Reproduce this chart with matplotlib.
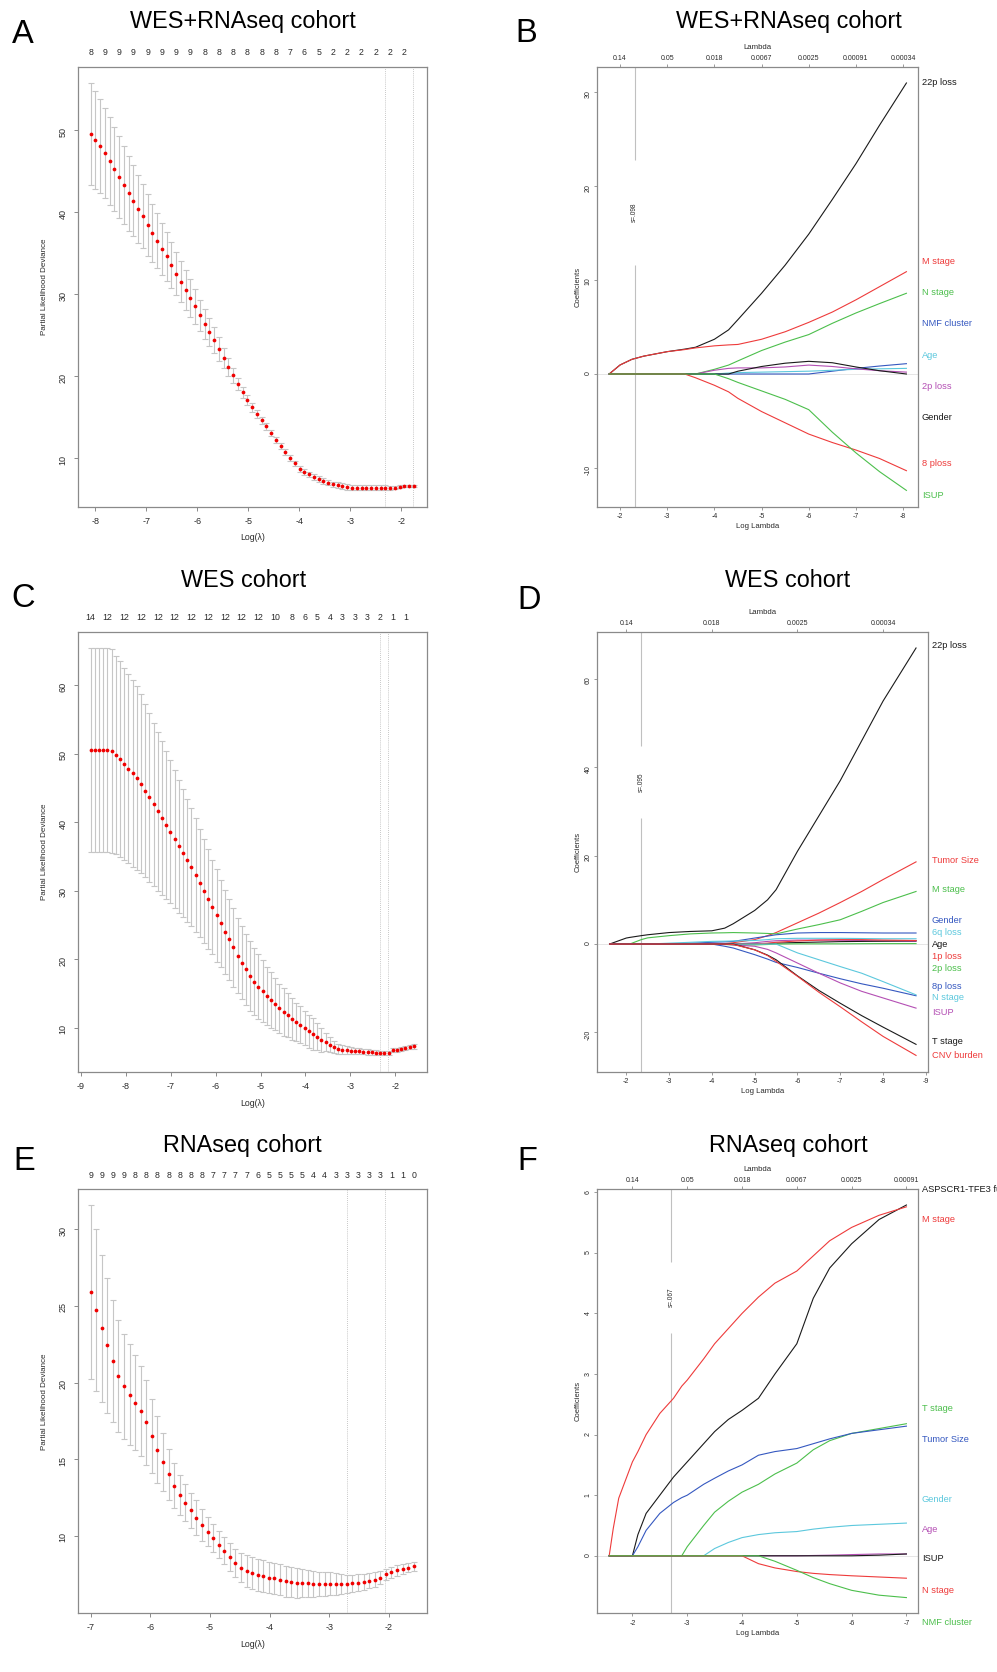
import numpy as np
import matplotlib
matplotlib.use("Agg")
import matplotlib.pyplot as plt
import matplotlib.transforms as mtransforms

plt.rcParams['font.family'] = ['Liberation Sans', 'DejaVu Sans']
plt.rcParams['axes.unicode_minus'] = False

# ---------------- data: cross-validation curves ----------------
a_loglam_range = (-8.091, -1.759, 69)
a_dev = [49.55, 48.82, 48.05, 47.2, 46.26, 45.28, 44.3, 43.3, 42.3, 41.4,
         40.4, 39.5, 38.4, 37.4, 36.5, 35.5, 34.6, 33.6, 32.5, 31.5,
         30.5, 29.5, 28.5, 27.4, 26.4, 25.4, 24.4, 23.3, 22.2, 21.1,
         20.1, 19.0, 18.0, 17.1, 16.2, 15.4, 14.6, 13.9, 13.05, 12.2,
         11.5, 10.7, 10.0, 9.35, 8.7, 8.3, 8.0, 7.7, 7.45, 7.2,
         7.0, 6.8, 6.7, 6.6, 6.5, 6.4, 6.4, 6.4, 6.4, 6.4,
         6.4, 6.4, 6.4, 6.4, 6.4, 6.5, 6.6, 6.6, 6.6]
a_se = [6.19, 5.99, 5.78, 5.54, 5.34, 5.13, 4.97, 4.77, 4.56, 4.36,
        4.15, 3.91, 3.75, 3.54, 3.34, 3.14, 2.97, 2.81, 2.65, 2.48,
        2.40, 2.28, 2.12, 1.91, 1.83, 1.71, 1.59, 1.47, 1.18, 1.06,
        0.90, 0.73, 0.65, 0.57, 0.53, 0.48, 0.45, 0.42, 0.40, 0.38,
        0.36, 0.35, 0.34, 0.34, 0.34, 0.34, 0.34, 0.34, 0.34, 0.34,
        0.34, 0.34, 0.34, 0.34, 0.34, 0.34, 0.34, 0.34, 0.34, 0.34,
        0.30, 0.28, 0.26, 0.25, 0.22, 0.18, 0.15, 0.12, 0.10]
a_top_idx = [0, 3, 6, 9, 12, 15, 18, 21, 24, 27, 30, 33, 36, 39, 42, 45, 48, 51, 54, 57, 60, 63, 66]
a_top_lab = ['8', '9', '9', '9', '9', '9', '9', '9', '8', '8', '8', '8', '8', '8', '7', '6', '5',
             '2', '2', '2', '2', '2', '2']
a_vlines = [-2.32, -1.765]
a_xticks = [-8, -7, -6, -5, -4, -3, -2]
a_yticks = [10, 20, 30, 40, 50]

c_loglam_range = (-8.78, -1.59, 78)
c_dev = [50.5, 50.5, 50.5, 50.5, 50.5,
         50.4, 49.8, 49.2, 48.5, 47.8, 47.1, 46.4, 45.6, 44.6, 43.6,
         42.6, 41.6, 40.6, 39.5, 38.6, 37.5, 36.5, 35.5, 34.4, 33.4,
         32.3, 31.1, 30.0, 28.8, 27.6, 26.4, 25.2, 24.0, 22.9, 21.7,
         20.5, 19.5, 18.5, 17.5, 16.7, 16.0, 15.3, 14.6, 14.0, 13.4,
         12.8, 12.3, 11.8, 11.3, 10.8, 10.4, 10.0, 9.5, 9.1, 8.7,
         8.25, 7.9, 7.5, 7.2, 6.95, 6.8, 6.7, 6.65, 6.6, 6.55,
         6.5, 6.45, 6.4, 6.35, 6.25, 6.25, 6.35, 6.7, 6.8, 6.9,
         7.05, 7.15, 7.25]
c_se = [14.9, 14.9, 14.9, 14.9, 14.9,
        14.87, 14.5, 14.3, 14.0, 13.8, 13.6, 13.4, 13.1, 12.6, 12.3,
        11.9, 11.6, 11.2, 10.8, 10.4, 10.1, 9.7, 9.3, 9.0, 8.6,
        8.3, 7.9, 7.6, 7.3, 6.9, 6.75, 6.4, 6.1, 5.9, 5.7,
        5.5, 5.3, 5.2, 5.1, 4.9, 4.7, 4.5, 4.2, 4.1, 3.8,
        3.6, 3.45, 3.2, 3.05, 2.8, 2.7, 2.5, 2.4, 2.3, 2.0,
        1.75, 1.36, 1.07, 0.87, 0.73, 0.63, 0.58, 0.5, 0.45, 0.42,
        0.4, 0.38, 0.35, 0.32, 0.3, 0.3, 0.3, 0.3, 0.3, 0.3,
        0.3, 0.3, 0.3]
c_top_idx = [0, 4, 8, 12, 16, 20, 24, 28, 32, 36, 40, 44, 48, 51, 54, 57, 60, 63, 66, 69, 72, 75]
c_top_lab = ['14', '12', '12', '12', '12', '12', '12', '12', '12', '12', '12', '10',
             '8', '6', '5', '4', '3', '3', '3', '2', '1', '1']
c_vlines = [-2.35, -2.17]
c_xticks = [-9, -8, -7, -6, -5, -4, -3, -2]
c_yticks = [10, 20, 30, 40, 50, 60]

e_loglam_range = (-7.0, -1.583, 59)
e_dev = [25.9, 24.73, 23.54, 22.42, 21.4, 20.44, 19.75, 19.21, 18.69, 18.13,
         17.41, 16.52, 15.63, 14.81, 14.01, 13.27, 12.69, 12.17, 11.67, 11.19,
         10.72, 10.28, 9.85, 9.44, 9.05, 8.64, 8.25, 7.94, 7.7, 7.57,
         7.46, 7.38, 7.29, 7.23, 7.14, 7.05, 6.99, 6.94, 6.92, 6.9,
         6.88, 6.88, 6.88, 6.88, 6.88, 6.88, 6.88, 6.9, 6.94, 6.99,
         7.08, 7.16, 7.29, 7.49, 7.64, 7.75, 7.85, 7.94, 8.03]
e_se = [5.68, 5.27, 4.79, 4.38, 3.98, 3.64, 3.45, 3.29, 3.1, 2.92,
        2.76, 2.43, 2.19, 1.89, 1.65, 1.48, 1.3, 1.21, 1.15, 1.13,
        1.06, 0.93, 0.91, 0.91, 0.86, 0.91, 0.91, 0.96, 1.03, 1.05,
        1.04, 1.02, 1.04, 1.02, 1.02, 1.0, 1.0, 0.96, 0.91, 0.87,
        0.84, 0.8, 0.78, 0.76, 0.72, 0.65, 0.58, 0.56, 0.56, 0.5,
        0.5, 0.47, 0.43, 0.37, 0.35, 0.33, 0.31, 0.3, 0.3]
e_top_idx = list(range(0, 59, 2))
e_top_lab = ['9', '9', '9', '9', '8', '8', '8', '8', '8', '8', '8', '7', '7', '7', '7', '6',
             '5', '5', '5', '5', '4', '4', '3', '3', '3', '3', '3', '1', '1', '0']
e_vlines = [-2.71, -2.06]
e_xticks = [-7, -6, -5, -4, -3, -2]
e_yticks = [10, 15, 20, 25, 30]

# ---------------- data: coefficient paths ----------------
b_loglam = [-1.77, -2.0, -2.25, -2.5, -3.0, -3.37, -3.6, -4.0, -4.3, -4.5, -5.0, -5.5, -6.0, -6.5, -7.0, -7.5, -8.07]
b_22p = [0, 0.96, 1.56, 1.9, 2.38, 2.65, 2.85, 3.7, 4.7, 5.8, 8.6, 11.6, 14.9, 18.6, 22.4, 26.5, 31.0]
b_mstage = [0, 0.96, 1.56, 1.9, 2.38, 2.6, 2.78, 3.0, 3.1, 3.15, 3.7, 4.5, 5.5, 6.6, 7.9, 9.3, 10.9]
b_nstage = [0, 0, 0, 0, 0, 0, 0, 0.5, 0.95, 1.4, 2.5, 3.4, 4.2, 5.4, 6.5, 7.5, 8.6]
b_nmf = [0, 0, 0, 0, 0, 0, 0, 0, 0, 0, 0, 0, 0, 0.3, 0.6, 0.85, 1.1]
b_age = [0, 0, 0, 0, 0, 0, 0, 0, 0.1, 0.15, 0.2, 0.25, 0.3, 0.4, 0.5, 0.55, 0.6]
b_2p = [0, 0, 0, 0, 0, 0, 0, 0.4, 0.6, 0.65, 0.65, 0.75, 0.95, 0.8, 0.55, 0.35, 0.2]
b_gender = [0, 0, 0, 0, 0, 0, 0, 0, 0, 0.3, 0.8, 1.15, 1.35, 1.2, 0.75, 0.35, 0.0]
b_8p = [0, 0, 0, 0, 0, 0, -0.4, -1.2, -1.9, -2.6, -4.0, -5.2, -6.4, -7.3, -8.1, -9.0, -10.3]
b_isup = [0, 0, 0, 0, 0, 0, 0, 0, -0.5, -0.9, -1.8, -2.7, -3.8, -6.2, -8.4, -10.4, -12.4]
b_names = ['22p loss', 'M stage', 'N stage', 'NMF cluster', 'Age', '2p loss', 'Gender', '8 ploss', 'ISUP']
b_label_y = [31.1, 11.96, 8.7, 5.4, 2.02, -1.35, -4.65, -9.58, -12.96]
b_lam_ticks = [-2, -3, -4, -5, -6, -7, -8]
b_lam_labels = ['0.14', '0.05', '0.018', '0.0067', '0.0025', '0.00091', '0.00034']
b_xticks = [-2, -3, -4, -5, -6, -7, -8]
b_yticks = [-10, 0, 10, 20, 30]

d_loglam = [-1.61, -2.0, -2.08, -2.35, -2.5, -3.0, -3.5, -4.0, -4.3, -4.5, -5.0, -5.3, -5.5, -6.0, -6.5, -7.0, -7.5, -8.0, -8.77]
d_22p = [0, 1.36, 1.5, 1.9, 2.1, 2.6, 2.85, 3.0, 3.6, 4.6, 7.6, 10.0, 12.3, 21.0, 29.0, 37.0, 46.0, 55.0, 67.0]
d_tumor = [0, 0, 0, 0, 0, 0, 0, 0, 0.1, 0.3, 1.0, 1.9, 2.6, 4.8, 7.0, 9.4, 11.9, 14.6, 18.6]
d_mstage = [0, 0, 0, 1.0, 1.4, 1.9, 2.3, 2.5, 2.55, 2.6, 2.5, 2.4, 2.3, 3.4, 4.4, 5.5, 7.4, 9.4, 11.9]
d_gender = [0, 0, 0, 0, 0, 0, 0.2, 0.4, 0.5, 0.6, 1.36, 1.8, 2.1, 2.5, 2.6, 2.6, 2.55, 2.5, 2.5]
d_6q = [0, 0, 0, 0, 0, 0.2, 0.4, 0.6, 0.65, 0.7, 0.8, 1.0, 1.2, 1.3, 1.3, 1.3, 1.25, 1.2, 1.2]
d_hidden = [0, 0, 0, 0, 0, 0, 0, 0, 0, 0, 0.3, 0.6, 0.75, 0.9, 0.9, 0.85, 0.8, 0.7, 0.6]
d_age = [0, 0, 0, 0, 0, 0, 0, 0, 0, 0, 0.05, 0.12, 0.2, 0.35, 0.45, 0.55, 0.6, 0.65, 0.75]
d_1p = [0, 0, 0, 0, 0, 0, 0, 0, 0, 0, 0, 0.2, 0.4, 0.7, 0.9, 1.0, 1.0, 0.9, 0.8]
d_2p = [0, 0, 0, 0, 0, 0, 0, 0, -0.1, -0.2, -0.2, -0.1, 0.0, 0.05, 0.05, 0.05, 0.08, 0.1, 0.1]
d_8p = [0, 0, 0, 0, 0, 0, 0, 0, -0.5, -0.9, -2.4, -3.4, -4.15, -5.3, -6.6, -7.85, -9.0, -10.0, -11.7]
d_nstage = [0, 0, 0, 0, 0, 0, 0, 0, 0, 0, 0, 0, 0.0, -2.0, -3.55, -5.1, -6.6, -8.5, -11.5]
d_isup = [0, 0, 0, 0, 0, 0, 0, 0, 0, -0.2, -0.5, -1.2, -2.0, -4.3, -6.6, -8.8, -10.7, -12.2, -14.5]
d_tstage = [0, 0, 0, 0, 0, 0, 0, 0, 0, 0.0, -1.3, -2.5, -3.55, -7.2, -10.5, -13.4, -16.2, -18.8, -22.7]
d_cnv = [0, 0, 0, 0, 0, 0, 0, 0, 0, -0.1, -1.3, -2.6, -3.9, -7.3, -10.9, -14.2, -17.6, -20.9, -25.2]
d_names = ['22p loss', 'Tumor Size', 'M stage', 'Gender', '6q loss', None, 'Age', '1p loss', '2p loss',
           '8p loss', 'N stage', 'ISUP', 'T stage', 'CNV burden']
d_label_y = [67.6, 18.9, 12.3, 5.4, 2.72, None, -0.08, -2.87, -5.6, -9.6, -12.2, -15.4, -22.1, -25.2]
d_lam_ticks = [-2, -4, -6, -8]
d_lam_labels = ['0.14', '0.018', '0.0025', '0.00034']
d_xticks = [-2, -3, -4, -5, -6, -7, -8, -9]
d_yticks = [-20, 0, 20, 40, 60]

f_loglam = [-1.576, -1.65, -1.75, -2.0, -2.1, -2.25, -2.5, -2.75, -2.9, -3.0, -3.3, -3.5, -3.75, -4.0,
            -4.3, -4.6, -5.0, -5.3, -5.6, -6.0, -6.5, -7.0]
f_aspscr1 = [0, 0, 0, 0, 0.35, 0.7, 1.0, 1.3, 1.45, 1.55, 1.85, 2.05, 2.25, 2.4, 2.6, 3.0, 3.5, 4.25, 4.75, 5.15, 5.55, 5.79]
f_mstage = [0, 0.45, 0.95, 1.55, 1.72, 2.0, 2.35, 2.6, 2.8, 2.9, 3.25, 3.5, 3.75, 4.0, 4.27, 4.5, 4.7, 4.95, 5.2, 5.42, 5.62, 5.76]
f_tstage = [0, 0, 0, 0, 0, 0, 0, 0, 0.0, 0.15, 0.5, 0.72, 0.9, 1.05, 1.18, 1.35, 1.53, 1.75, 1.9, 2.02, 2.1, 2.18]
f_tumor = [0, 0, 0, 0, 0.15, 0.42, 0.7, 0.88, 0.96, 1.0, 1.18, 1.28, 1.4, 1.5, 1.66, 1.72, 1.77, 1.85, 1.93, 2.02, 2.08, 2.14]
f_gender = [0, 0, 0, 0, 0, 0, 0, 0, 0, 0, 0.0, 0.12, 0.22, 0.3, 0.35, 0.38, 0.4, 0.44, 0.47, 0.5, 0.52, 0.54]
f_age = [0, 0, 0, 0, 0, 0, 0, 0, 0, 0, 0, 0, 0, 0, 0, 0, 0.0, 0.005, 0.01, 0.02, 0.03, 0.03]
f_isup = [0, 0, 0, 0, 0, 0, 0, 0, 0, 0, 0, 0, 0, 0, 0, 0, 0, 0, 0, 0.0, 0.01, 0.03]
f_nstage = [0, 0, 0, 0, 0, 0, 0, 0, 0, 0, 0, 0, 0, 0.0, -0.13, -0.2, -0.26, -0.29, -0.31, -0.33, -0.35, -0.37]
f_nmf = [0, 0, 0, 0, 0, 0, 0, 0, 0, 0, 0, 0, 0, 0, 0.0, -0.09, -0.24, -0.36, -0.46, -0.57, -0.65, -0.69]
f_names = ['ASPSCR1-TFE3 fusion', 'M stage', 'T stage', 'Tumor Size', 'Gender', 'Age', 'ISUP', 'N stage', 'NMF cluster']
f_label_y = [6.05, 5.55, 2.43, 1.92, 0.93, 0.43, -0.05, -0.58, -1.1]
f_lam_ticks = [-2, -3, -4, -5, -6, -7]
f_lam_labels = ['0.14', '0.05', '0.018', '0.0067', '0.0025', '0.00091']
f_xticks = [-2, -3, -4, -5, -6, -7]
f_yticks = [0, 1, 2, 3, 4, 5, 6]

# ---------------- styling ----------------
W, H = 997, 1672
FRAME = '#8A8A8A'
TXT = '#2A2A2A'
PAL = ['#1A1A1A', '#EE3B3B', '#4CBF4C', '#3558C0', '#5CC8DD', '#B44FB4']

fig = plt.figure(figsize=(W / 100, H / 100), dpi=100)


def make_axes(box):
    l, t, r, b = box
    ax = fig.add_axes([l / W, 1 - b / H, (r - l) / W, (b - t) / H])
    for s in ax.spines.values():
        s.set_color(FRAME)
        s.set_linewidth(0.9)
    return ax, r - l, b - t


def rlim(lo, hi):
    d = (hi - lo) * 0.04
    return lo - d, hi + d


def cv_panel(box, lrange, dev, se, top_idx, top_lab, vlines, xticks, yticks):
    ax, w, h = make_axes(box)
    x = np.linspace(*lrange)
    dev = np.array(dev)
    se = np.array(se)
    ax.set_xlim(rlim(x.min(), x.max()))
    ax.set_ylim(rlim((dev - se).min(), (dev + se).max()))
    ax.errorbar(x, dev, yerr=se, fmt='none', ecolor='#C6C6C6', elinewidth=0.8,
                capsize=2.4, capthick=0.8, zorder=2)
    ax.plot(x, dev, 'o', color='#F00000', ms=2.7, mec='none', zorder=3)
    for v in vlines:
        ax.axvline(v, color='#B5B5B5', lw=0.6, ls=(0, (1, 1.5)), zorder=1)
    ax.set_xticks(xticks)
    ax.set_yticks(yticks)
    ax.tick_params(direction='out', length=3, width=0.7, color=FRAME,
                   labelsize=6.5, labelcolor=TXT, pad=4.3)
    ax.tick_params(axis='y', labelrotation=90)
    sec = ax.secondary_xaxis('top')
    sec.set_xticks(x[top_idx], labels=top_lab)
    sec.tick_params(length=0, pad=7.0, labelsize=6.3, labelcolor=TXT)
    sec.spines['top'].set_visible(False)
    ax.text(0.5, -31.3 / h, 'Log(\u03bb)', transform=ax.transAxes, ha='center', va='center',
            fontsize=6.3, color=TXT)
    ax.text(-33.7 / w, 0.5, 'Partial Likelihood Deviance', transform=ax.transAxes, rotation=90,
            ha='center', va='center', fontsize=5.8, color=TXT)
    return ax


def coef_panel(box, grid, paths, names, label_y, vline, stext, sy, gap,
               lam_ticks, lam_labels, xticks, yticks):
    ax, w, h = make_axes(box)
    grid = np.array(grid)
    allv = np.concatenate([np.array(p) for p in paths])
    xl = rlim(grid.min(), grid.max())
    ax.set_xlim(xl[1], xl[0])
    yl = rlim(allv.min(), allv.max())
    ax.set_ylim(yl)
    ax.axhline(0, color='#E2E2E2', lw=0.6, zorder=0)
    for i, p in enumerate(paths):
        ax.plot(grid, p, color=PAL[i % 6], lw=0.8, zorder=2)
    # vertical line with a gap where the s= label sits
    ax.vlines(vline, yl[0], gap[0], color='#C0C0C0', lw=0.8, zorder=1)
    ax.vlines(vline, gap[1], yl[1], color='#C0C0C0', lw=0.8, zorder=1)
    ax.text(vline, sy, stext, rotation=90, ha='center', va='center', fontsize=4.7, color=TXT)
    tr = mtransforms.blended_transform_factory(ax.transAxes, ax.transData)
    for i, (nm, ly) in enumerate(zip(names, label_y)):
        if nm is None:
            continue
        ax.text(1 + 3.4 / w, ly, nm, transform=tr, ha='left', va='center',
                fontsize=6.7, color=PAL[i % 6], clip_on=False)
    ax.set_xticks(xticks)
    ax.set_yticks(yticks)
    ax.tick_params(direction='out', length=2.2, width=0.6, color=FRAME,
                   labelsize=5, labelcolor=TXT, pad=2.3)
    ax.tick_params(axis='y', labelrotation=90, pad=1.8)
    sec = ax.secondary_xaxis('top')
    sec.set_xticks(lam_ticks, labels=lam_labels)
    sec.tick_params(direction='out', length=2.2, width=0.6, color=FRAME,
                    labelsize=5, labelcolor=TXT, pad=1.4)
    sec.spines['top'].set_visible(False)
    ax.text(0.5, 1 + 19.4 / h, 'Lambda', transform=ax.transAxes, ha='center', va='center',
            fontsize=5.6, color=TXT)
    ax.text(0.5, -20 / h, 'Log Lambda', transform=ax.transAxes, ha='center', va='center',
            fontsize=5.6, color=TXT)
    ax.text(-19 / w, 0.5, 'Coefficients', transform=ax.transAxes, rotation=90,
            ha='center', va='center', fontsize=5.5, color=TXT)
    return ax


# ---------------- panels ----------------
cv_panel((77.7, 66.7, 426.7, 506.7), a_loglam_range, a_dev, a_se, a_top_idx, a_top_lab,
         a_vlines, a_xticks, a_yticks)
coef_panel((597.3, 66.7, 918.3, 506.7), b_loglam,
           [b_22p, b_mstage, b_nstage, b_nmf, b_age, b_2p, b_gender, b_8p, b_isup],
           b_names, b_label_y, -2.31, 's=.098', 17.2, (11.6, 22.8),
           b_lam_ticks, b_lam_labels, b_xticks, b_yticks)

cv_panel((77.7, 631.7, 426.7, 1071.7), c_loglam_range, c_dev, c_se, c_top_idx, c_top_lab,
         c_vlines, c_xticks, c_yticks)
coef_panel((597.3, 631.7, 928.3, 1071.7), d_loglam,
           [d_22p, d_tumor, d_mstage, d_gender, d_6q, d_hidden, d_age, d_1p, d_2p,
            d_8p, d_nstage, d_isup, d_tstage, d_cnv],
           d_names, d_label_y, -2.35, 's=.095', 36.6, (28.5, 44.8),
           d_lam_ticks, d_lam_labels, d_xticks, d_yticks)

cv_panel((77.7, 1189.3, 426.7, 1613.3), e_loglam_range, e_dev, e_se, e_top_idx, e_top_lab,
         e_vlines, e_xticks, e_yticks)
coef_panel((597.3, 1189.3, 918.3, 1613.3), f_loglam,
           [f_aspscr1, f_mstage, f_tstage, f_tumor, f_gender, f_age, f_isup, f_nstage, f_nmf],
           f_names, f_label_y, -2.70, 's=.067', 4.27, (3.68, 4.85),
           f_lam_ticks, f_lam_labels, f_xticks, f_yticks)

# ---------------- titles & panel letters ----------------
titles = [('WES+RNAseq cohort', 242.5, 28.3), ('WES+RNAseq cohort', 789, 28.3),
          ('WES cohort', 243.5, 586.7), ('WES cohort', 788, 587),
          ('RNAseq cohort', 242.5, 1151.7), ('RNAseq cohort', 788, 1151.7)]
for t, x, y in titles:
    fig.text(x / W, 1 - y / H, t, ha='center', va='baseline', fontsize=16.8, color='black')

letters = [('A', 11.7, 43.3), ('B', 515, 41.7), ('C', 11, 607), ('D', 517, 609),
           ('E', 13, 1170), ('F', 517, 1170)]
for t, x, y in letters:
    fig.text(x / W, 1 - y / H, t, ha='left', va='baseline', fontsize=23.5, color='black')

fig.savefig('out.png', dpi=100)
